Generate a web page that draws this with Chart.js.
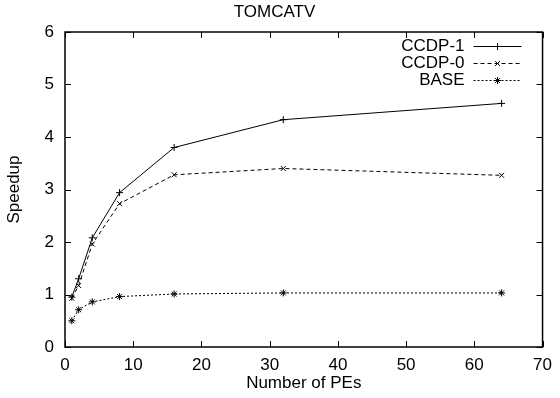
<!DOCTYPE html>
<html>
<head>
<meta charset="utf-8">
<script src="https://cdn.jsdelivr.net/npm/chart.js@4.4.1/dist/chart.umd.min.js"></script>
<style>
  body { margin: 0; background: #fff; }
  #wrap { width: 560px; height: 398px; position: relative; }
</style>
</head>
<body>
<div id="wrap"><canvas id="speedupChart"></canvas></div>
<script>
// Data
const pes = [1, 2, 4, 8, 16, 32, 64];
const ccdp1 = [0.95, 1.30, 2.08, 2.94, 3.80, 4.33, 4.64];
const ccdp0 = [0.93, 1.17, 1.96, 2.73, 3.28, 3.40, 3.27];
const base = [0.50, 0.71, 0.86, 0.96, 1.01, 1.03, 1.03];
const xTicks = [0, 10, 20, 30, 40, 50, 60, 70];
const yTicks = [0, 1, 2, 3, 4, 5, 6];

const FONT = '"Liberation Sans", Arial, Helvetica, sans-serif';
const FS = 17;

function points(ys) {
    return pes.map((p, i) => ({ x: p, y: ys[i] }));
}

const seriesStyle = [
    { label: 'CCDP-1', data: ccdp1, dash: [], marker: 'cross' },
    { label: 'CCDP-0', data: ccdp0, dash: [4, 3], marker: 'crossRot' },
    { label: 'BASE', data: base, dash: [2, 2], marker: 'star' }
];

// gnuplot-like frame, inward ticks on all four sides and the key
const gnuplotFrame = {
    id: 'gnuplotFrame',
    afterDatasetsDraw(chart) {
        const { ctx, chartArea: a, scales } = chart;
        const tl = 6;
        ctx.save();
        ctx.strokeStyle = '#000';
        ctx.lineWidth = 1;
        ctx.setLineDash([]);
        ctx.beginPath();
        xTicks.forEach(v => {
            const px = Math.round(scales.x.getPixelForValue(v)) + 0.5;
            ctx.moveTo(px, a.bottom); ctx.lineTo(px, a.bottom - tl);
            ctx.moveTo(px, a.top); ctx.lineTo(px, a.top + tl);
        });
        yTicks.forEach(v => {
            const py = Math.round(scales.y.getPixelForValue(v)) + 0.5;
            ctx.moveTo(a.left, py); ctx.lineTo(a.left + tl, py);
            ctx.moveTo(a.right, py); ctx.lineTo(a.right - tl, py);
        });
        ctx.stroke();
        ctx.lineWidth = 1.5;
        ctx.strokeRect(a.left, a.top, a.right - a.left, a.bottom - a.top);

        // key
        ctx.font = FS + 'px ' + FONT;
        ctx.fillStyle = '#000';
        ctx.textAlign = 'right';
        ctx.textBaseline = 'middle';
        const textX = a.right - 78, x0 = a.right - 69, x1 = a.right - 21;
        seriesStyle.forEach((s, i) => {
            const yy = a.top + 14.5 + i * 17;
            ctx.fillText(s.label, textX, yy);
            ctx.lineWidth = 1;
            ctx.setLineDash(s.dash);
            ctx.beginPath();
            ctx.moveTo(x0, yy); ctx.lineTo(x1, yy);
            ctx.stroke();
            ctx.setLineDash([]);
            Chart.helpers.drawPoint(ctx, {
                pointStyle: s.marker, radius: 3.5, rotation: 0, borderWidth: 1
            }, (x0 + x1) / 2, yy);
        });
        ctx.restore();
    }
};

const config = {
    type: 'line',
    data: {
        datasets: seriesStyle.map(s => ({
            label: s.label,
            data: points(s.data),
            borderColor: '#000',
            backgroundColor: '#000',
            borderWidth: 1,
            borderDash: s.dash,
            pointStyle: s.marker,
            pointRadius: 3.5,
            pointBorderWidth: 1,
            pointBorderColor: '#000',
            tension: 0
        }))
    },
    options: {
        responsive: true,
        maintainAspectRatio: false,
        animation: false,
        layout: { padding: { left: 0, right: 11, top: 0, bottom: 0 } },
        plugins: {
            legend: { display: false },
            tooltip: { enabled: false },
            title: {
                display: true,
                text: 'TOMCATV',
                color: '#000',
                font: { family: FONT, size: FS, weight: 'normal' },
                padding: { top: 2, bottom: 9.6 }
            }
        },
        scales: {
            x: {
                type: 'linear',
                min: 0,
                max: 70,
                afterBuildTicks: s => { s.ticks = xTicks.map(v => ({ value: v })); },
                afterFit: s => { s.height = 51; },
                ticks: { color: '#000', padding: 8, maxRotation: 0, font: { family: FONT, size: FS } },
                grid: { display: false, drawTicks: false },
                border: { display: false },
                title: {
                    display: true,
                    text: 'Number of PEs',
                    color: '#000',
                    font: { family: FONT, size: FS },
                    padding: { top: 0, bottom: 4.5 }
                }
            },
            y: {
                type: 'linear',
                min: 0,
                max: 6,
                afterBuildTicks: s => { s.ticks = yTicks.map(v => ({ value: v })); },
                afterFit: s => { s.width = 65; },
                ticks: { color: '#000', padding: 11, font: { family: FONT, size: FS } },
                grid: { display: false, drawTicks: false },
                border: { display: false },
                title: {
                    display: true,
                    text: 'Speedup',
                    color: '#000',
                    font: { family: FONT, size: FS },
                    padding: { top: 4.5, bottom: 0 }
                }
            }
        }
    },
    plugins: [gnuplotFrame]
};

window.onload = function() {
    const ctx = document.getElementById('speedupChart').getContext('2d');
    new Chart(ctx, config);
};
</script>
</body>
</html>
